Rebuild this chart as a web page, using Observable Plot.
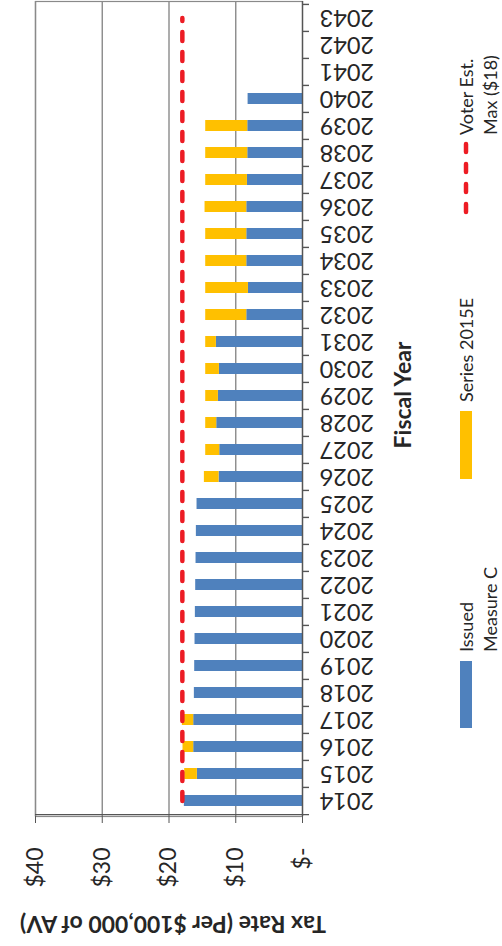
<!DOCTYPE html>
<html><head><meta charset="utf-8">
<script src="https://cdn.jsdelivr.net/npm/d3@7"></script>
<script src="https://cdn.jsdelivr.net/npm/@observablehq/plot@0.6"></script>
<style>
html,body{margin:0;padding:0;background:#fff;}
#wrap{position:relative;width:502px;height:946px;overflow:hidden;font-family:Lato,"Open Sans",sans-serif;color:#262626;}
#legend{position:absolute;left:380px;top:946px;width:946px;height:122px;transform-origin:0 0;transform:rotate(-90deg);}
#legend > *{position:absolute;white-space:nowrap;}
.lt{font-size:18px;line-height:24px;}
</style></head><body>
<div id="wrap"><div id="chart"></div><div id="legend"></div></div>
<script>
// ---- data ----
const years = [2014,2015,2016,2017,2018,2019,2020,2021,2022,2023,2024,2025,2026,2027,2028,2029,2030,2031,2032,2033,2034,2035,2036,2037,2038,2039,2040,2041,2042,2043];
const issuedMeasureC = [17.7,15.75,16.3,16.3,16.2,16.15,16.1,16.05,16.0,15.95,15.9,15.8,12.5,12.4,12.85,12.6,12.45,12.9,8.35,8.1,8.35,8.35,8.35,8.25,8.2,8.2,8.15,0,0,0];
const series2015E = [0,1.9,1.6,1.7,0,0,0,0,0,0,0,0,2.2,2.1,1.65,1.9,2.05,1.6,6.15,6.4,6.15,6.15,6.25,6.25,6.3,6.3,0,0,0,0];
const voterMax = years.map(() => 18);
const seriesNames = ["Issued Measure C", "Series 2015E"];
const seriesColors = ["#4f81bd", "#ffc000"];
const lineColor = "#ed1c24";
const valueTicks = [0,10,20,30,40];
const yTitle = "Tax Rate (Per $100,000 of AV)";
const xTitle = "Fiscal Year";

const table = [];
years.forEach((y,i) => {
  table.push({year: y, series: seriesNames[0], value: issuedMeasureC[i]});
  table.push({year: y, series: seriesNames[1], value: series2015E[i]});
});
const lineData = years.map((y,i) => ({year: y, value: voterMax[i]}));

const W = 502, H = 946, mT = 1, mB = 130, mL = 35, mR = 200;
const step = (H - mT - mB) / years.length;

const chart = Plot.plot({
  width: W, height: H,
  marginTop: mT, marginBottom: mB, marginLeft: mL, marginRight: mR,
  style: {fontFamily: "Lato, 'Open Sans', sans-serif", fontSize: "23px", background: "white"},
  x: {domain: [0, 40], reverse: true, axis: null},
  y: {domain: years.slice().reverse(), paddingInner: 0.6, paddingOuter: 0.3, axis: null},
  color: {domain: seriesNames, range: seriesColors},
  marks: [
    Plot.ruleX([10,20,30,40], {stroke: "#8a8a8a", strokeWidth: 1.4}),
    Plot.frame({stroke: "#8a8a8a", strokeWidth: 1.2}),
    Plot.barX(table, Plot.stackX({y: "year", x: "value", fill: "series", order: seriesNames, insetTop: 0, insetBottom: 0})),
    Plot.ruleX([0], {stroke: "#555", strokeWidth: 1.4}),
    Plot.ruleY(years, {y: d => d, x1: 0, x2: -1.05, dy: -step/2, stroke: "#555", strokeWidth: 1.4}),
    Plot.ruleY([years[0]], {y: d => d, x1: 40, x2: -1.05, dy: step/2, stroke: "#555", strokeWidth: 1.4}),
    Plot.line(lineData, {x: "value", y: "year", stroke: lineColor, strokeWidth: 4.5, strokeDasharray: "9,11", strokeLinecap: "round"}),
    Plot.axisX({anchor: "bottom", ticks: valueTicks, tickFormat: d => d === 0 ? "$-" : "$" + d, tickSize: 7, tickPadding: 24, tickRotate: -90, textAnchor: "end", lineAnchor: "middle", fontSize: 23, stroke: "#555", fill: "#262626", label: null}),
    Plot.axisY({anchor: "right", tickSize: 0, tickPadding: 17, tickRotate: 180, tickFormat: d => String(d), textAnchor: "end", lineAnchor: "middle", fontSize: 23.5, fill: "#262626", label: null}),
    Plot.text([yTitle], {frameAnchor: "bottom", dy: 107, dx: 4, rotate: 180, lineAnchor: "middle", fontWeight: "bold", fontSize: 23, fill: "#262626"})
  ]
});
document.getElementById("chart").appendChild(chart);

// ---- legend (rotated like the chart) ----
const lg = document.getElementById("legend");
function add(html, css, cls){ const d = document.createElement("div"); d.innerHTML = html; Object.assign(d.style, css); if (cls) d.className = cls; lg.appendChild(d); }
add(xTitle, {left: "551px", top: "22px", transform: "translate(-50%,-50%)", fontWeight: "bold", fontSize: "23px", lineHeight: "1"});
add("", {left: "218px", top: "80px", width: "67px", height: "12px", background: seriesColors[0]});
add("Issued<br>Measure C", {left: "294px", top: "74px"}, "lt");
add("", {left: "467px", top: "80px", width: "68px", height: "12px", background: seriesColors[1]});
add("Series 2015E", {left: "544px", top: "74px"}, "lt");
add(`<svg width="74" height="12"><line x1="3" y1="6" x2="71" y2="6" stroke="${lineColor}" stroke-width="4.5" stroke-dasharray="8,12" stroke-linecap="round"/></svg>`, {left: "731px", top: "80px", lineHeight: "0"});
add("Voter Est.<br>Max ($18)", {left: "811px", top: "74px"}, "lt");
</script>
</body></html>
